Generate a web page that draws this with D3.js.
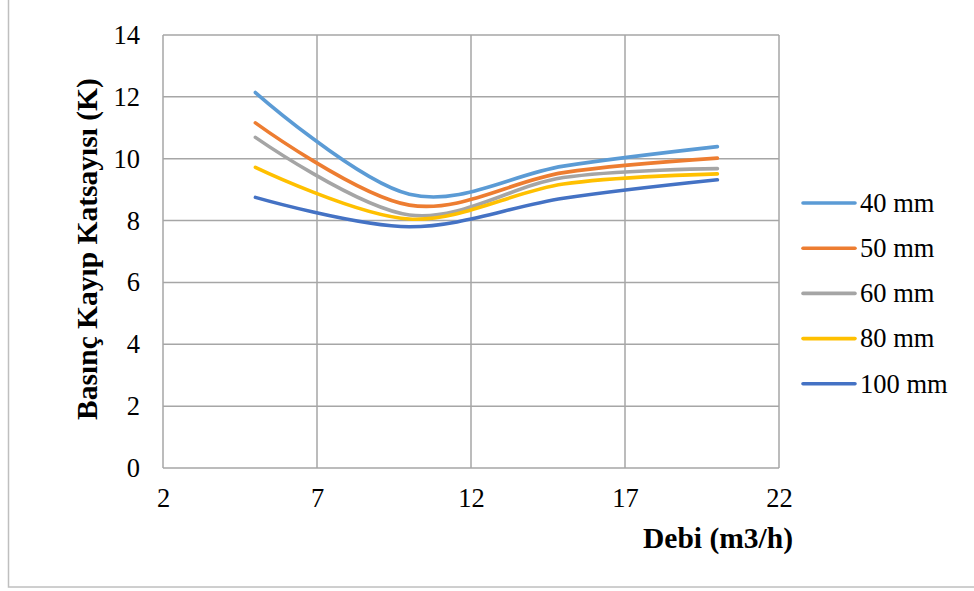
<!DOCTYPE html>
<html><head><meta charset="utf-8">
<script src="https://cdn.jsdelivr.net/npm/d3@7"></script>
<style>body{margin:0;background:#fff}svg{display:block}</style>
</head><body>
<svg id="c" width="974" height="591"></svg>
<script>
const xValues = [5, 10, 15, 20];
const seriesNames = ["40 mm", "50 mm", "60 mm", "80 mm", "100 mm"];
const s40 = [12.14, 8.85, 9.76, 10.39];
const s50 = [11.16, 8.50, 9.55, 10.02];
const s60 = [10.69, 8.18, 9.39, 9.68];
const s80 = [9.72, 8.05, 9.18, 9.51];
const s100 = [8.75, 7.80, 8.72, 9.32];
const seriesColors = ["#5B9BD5", "#ED7D31", "#A5A5A5", "#FFC000", "#4472C4"];
const xTicks = [2, 7, 12, 17, 22];
const yTicks = [0, 2, 4, 6, 8, 10, 12, 14];

const series = [s40, s50, s60, s80, s100].map((v, i) => ({
  name: seriesNames[i], color: seriesColors[i],
  pts: v.map((y, j) => [xValues[j], y])
}));

const svg = d3.select("#c");
const L = 163, R = 779, T = 35, B = 468;
const x = d3.scaleLinear().domain([2, 22]).range([L, R]);
const y = d3.scaleLinear().domain([0, 14]).range([B, T]);
const font = "'Liberation Serif', 'Times New Roman', serif";
const grid = "#a6a6a6";
const tickSize = 26.5, titleSize = 29.5;

// outer frame
svg.append("rect").attr("x", 8.5).attr("y", -5).attr("width", 1000).attr("height", 592)
  .attr("fill", "none").attr("stroke", "#bfbfbf").attr("stroke-width", 1.5);

// gridlines
svg.append("g").selectAll("line").data(yTicks).join("line")
  .attr("x1", L).attr("x2", R).attr("y1", d => y(d)).attr("y2", d => y(d))
  .attr("stroke", grid).attr("stroke-width", 1.5);
svg.append("g").selectAll("line").data(xTicks).join("line")
  .attr("y1", T).attr("y2", B).attr("x1", d => x(d)).attr("x2", d => x(d))
  .attr("stroke", grid).attr("stroke-width", 1.5);

// axes (labels only, via d3 axis)
const yAxis = svg.append("g").attr("transform", `translate(${L},0)`)
  .call(d3.axisLeft(y).tickValues(yTicks).tickSize(0).tickPadding(23));
yAxis.select(".domain").remove();
yAxis.selectAll("text").attr("font-family", font).attr("font-size", tickSize).attr("fill", "#000");

const xAxis = svg.append("g").attr("transform", `translate(0,${B})`)
  .call(d3.axisBottom(x).tickValues(xTicks).tickSize(0).tickPadding(20));
xAxis.select(".domain").remove();
xAxis.selectAll("text").attr("font-family", font).attr("font-size", tickSize).attr("fill", "#000");

// lines
const line = d3.line().x(d => x(d[0])).y(d => y(d[1])).curve(d3.curveCatmullRom.alpha(0));
svg.append("g").selectAll("path").data(series).join("path")
  .attr("d", d => line(d.pts)).attr("fill", "none")
  .attr("stroke", d => d.color).attr("stroke-width", 3.6).attr("stroke-linecap", "round");

// axis titles
svg.append("text").attr("x", 793).attr("y", 548).attr("text-anchor", "end")
  .attr("font-family", font).attr("font-size", titleSize).attr("font-weight", "bold")
  .text("Debi (m3/h)");
svg.append("text").attr("transform", "translate(88,249) rotate(-90)").attr("text-anchor", "middle")
  .attr("dy", "0.3em")
  .attr("font-family", font).attr("font-size", titleSize).attr("font-weight", "bold")
  .text("Basınç Kayıp Katsayısı (K)");

// legend
const leg = svg.append("g").selectAll("g").data(series).join("g")
  .attr("transform", (d, i) => `translate(803,${203 + i * 45.2})`);
leg.append("line").attr("x1", 0).attr("x2", 52).attr("stroke", d => d.color)
  .attr("stroke-width", 3.6).attr("stroke-linecap", "round");
leg.append("text").attr("x", 57).attr("dy", "0.33em").attr("font-family", font)
  .attr("font-size", tickSize).text(d => d.name);
</script>
</body></html>
